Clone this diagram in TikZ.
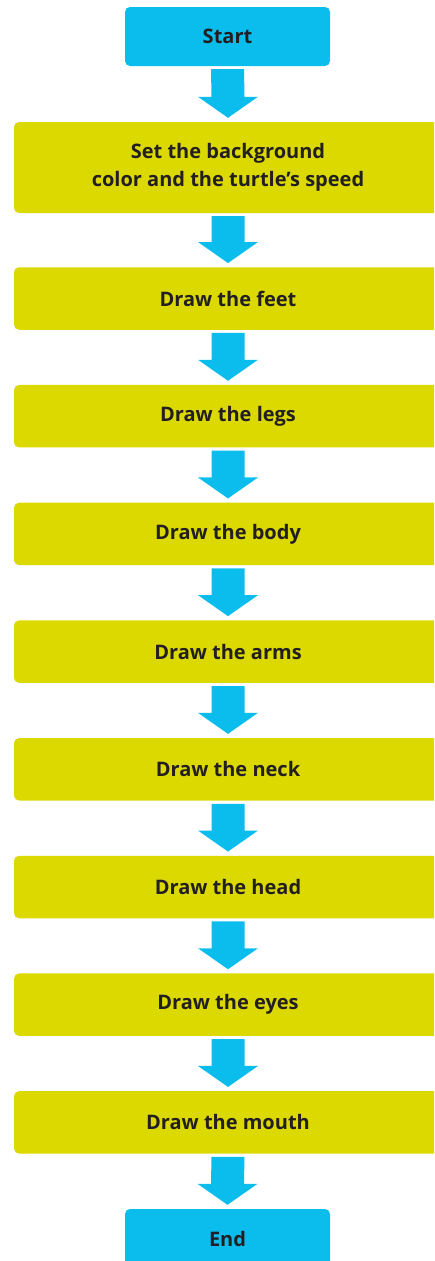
\documentclass[tikz,border=0pt]{standalone}
\usepackage{fontspec}
\setmainfont{Open Sans}
\definecolor{boxcyan}{RGB}{11,189,236}
\definecolor{boxyellow}{RGB}{220,217,0}
\definecolor{txt}{RGB}{35,31,32}
\newcommand\flowarrow[2]{%
  \fill[boxcyan] ([xshift=-16.5pt,yshift=-3pt]#1.south) -- ([xshift=16.5pt,yshift=-3pt]#1.south)
    -- ([xshift=16.5pt,yshift=25pt]#2.north) -- ([xshift=30pt,yshift=25pt]#2.north)
    -- ([yshift=4pt]#2.north) -- ([xshift=-30pt,yshift=25pt]#2.north)
    -- ([xshift=-16.5pt,yshift=25pt]#2.north) -- cycle;}
\tikzset{
  base/.style={rounded corners=5pt, inner sep=0pt, align=center, text=txt,
    font=\fontsize{20}{28}\selectfont\bfseries},
  term/.style={base, fill=boxcyan, minimum width=205pt, minimum height=59pt},
  stepbox/.style={base, fill=boxyellow, minimum width=428pt, minimum height=62.5pt},
}
\begin{document}
\begin{tikzpicture}[x=1pt,y=1pt]
\useasboundingbox (0,0) rectangle (434,-1261);
\clip (0,0) rectangle (434,-1261);
\node[term] (start) at (227.5,-36.5) {Start};
\node[stepbox, minimum height=91pt] (s0) at (228,-167.5) {Set the background\\color and the turtle’s speed};
\node[stepbox] (s1) at (228,-298.5) {Draw the feet};
\node[stepbox] (s2) at (228,-416.2) {Draw the legs};
\node[stepbox] (s3) at (228,-533.9) {Draw the body};
\node[stepbox] (s4) at (228,-651.6) {Draw the arms};
\node[stepbox] (s5) at (228,-769.3) {Draw the neck};
\node[stepbox] (s6) at (228,-887.0) {Draw the head};
\node[stepbox] (s7) at (228,-1004.7) {Draw the eyes};
\node[stepbox] (s8) at (228,-1122.4) {Draw the mouth};
\node[term] (end) at (227.5,-1238.5) {End};
\flowarrow{start}{s0}
\flowarrow{s0}{s1}
\flowarrow{s1}{s2}
\flowarrow{s2}{s3}
\flowarrow{s3}{s4}
\flowarrow{s4}{s5}
\flowarrow{s5}{s6}
\flowarrow{s6}{s7}
\flowarrow{s7}{s8}
\flowarrow{s8}{end}
\end{tikzpicture}
\end{document}
